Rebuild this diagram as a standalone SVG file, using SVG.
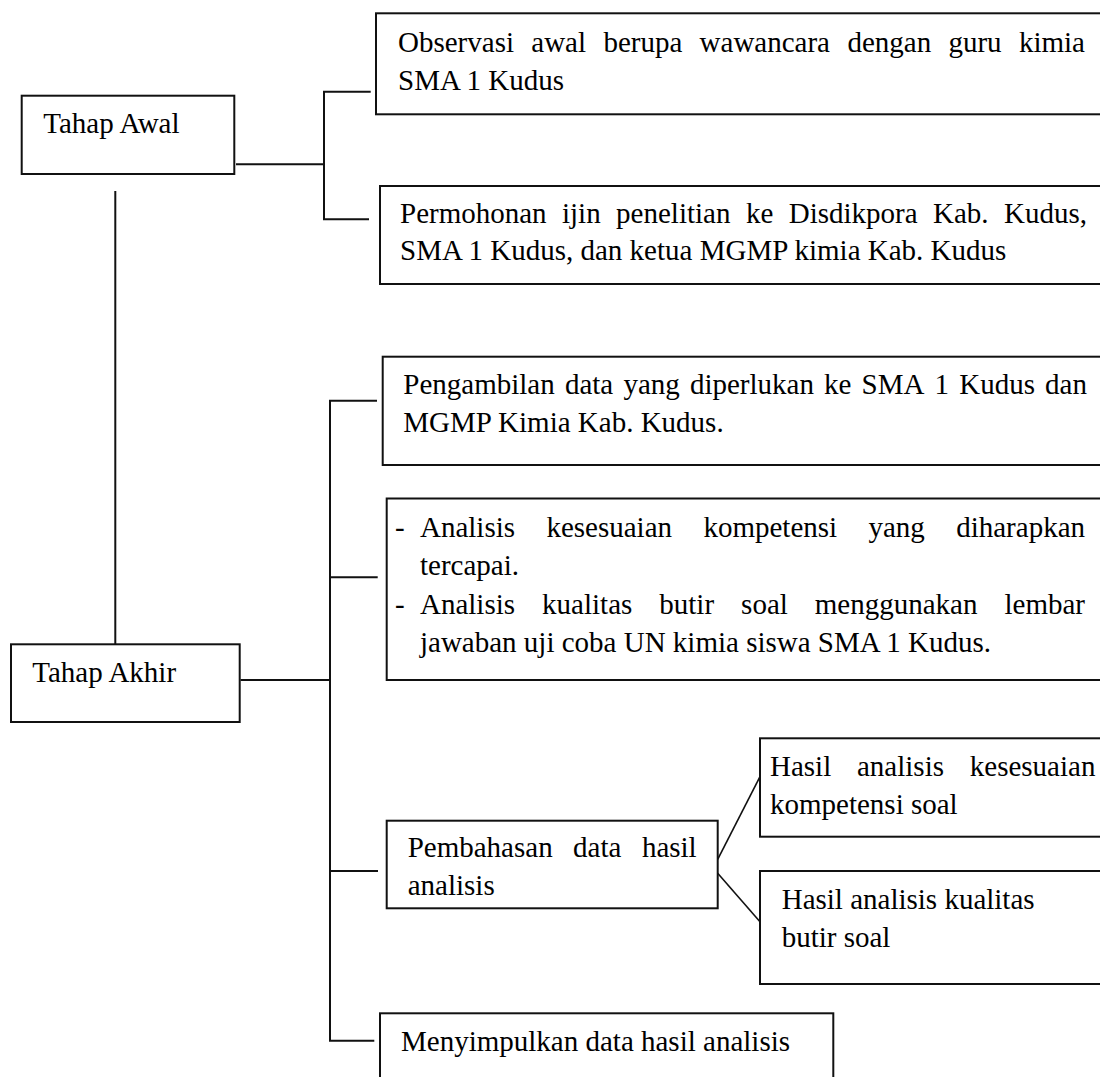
<svg xmlns="http://www.w3.org/2000/svg" width="1100" height="1077" viewBox="0 0 1100 1077">
  <style>
    .box { fill: #ffffff; stroke: #111111; stroke-width: 2; }
    .line { fill: none; stroke: #111111; stroke-width: 2; }
    .diag { fill: none; stroke: #111111; stroke-width: 1.6; }
    text { font-family: "Liberation Serif", "Times New Roman", serif; font-size: 29px; fill: #000000; }
  </style>
  <rect width="1100" height="1077" fill="#ffffff"/>

  <!-- connectors -->
  <g id="connectors">
    <!-- Tahap Awal branch -->
    <path class="line" d="M236 164.3 H324"/>
    <path class="line" d="M324 91.7 V219.3"/>
    <path class="line" d="M323 91.7 H370.7"/>
    <path class="line" d="M323 219.3 H369"/>
    <!-- link between the two stages -->
    <path class="line" d="M115.3 191 V644.3"/>
    <!-- Tahap Akhir branch -->
    <path class="line" d="M240.5 680 H329"/>
    <path class="line" d="M330 400.7 V1040.7"/>
    <path class="line" d="M329 400.7 H377"/>
    <path class="line" d="M331 577.3 H377.7"/>
    <path class="line" d="M331 871 H378"/>
    <path class="line" d="M329 1040.7 H374.3"/>
    <!-- discussion splits into two results -->
    <path class="diag" d="M717.7 859.3 L760 776.7"/>
    <path class="diag" d="M717.7 873.3 L760 921.7"/>
  </g>

  <g id="tahap-awal">
    <rect class="box" x="21.7" y="95.7" width="212.6" height="78.3"/>
    <text x="43.3" y="133.3">Tahap Awal</text>
  </g>

  <g id="observasi">
    <rect class="box" x="376" y="13.3" width="740" height="101"/>
    <text y="51.5"><tspan x="398">Observasi</tspan><tspan x="531.3">awal</tspan><tspan x="603.4">berupa</tspan><tspan x="699.6">wawancara</tspan><tspan x="847.4">dengan</tspan><tspan x="948.4">guru</tspan><tspan x="1018.9">kimia</tspan></text>
    <text x="398" y="89.5">SMA 1 Kudus</text>
  </g>

  <g id="permohonan">
    <rect class="box" x="380" y="186" width="740" height="98"/>
    <text y="222.7"><tspan x="400">Permohonan</tspan><tspan x="562">ijin</tspan><tspan x="616.1">penelitian</tspan><tspan x="745.9">ke</tspan><tspan x="788.7">Disdikpora</tspan><tspan x="933">Kab.</tspan><tspan x="1004">Kudus,</tspan></text>
    <text x="400" y="260">SMA 1 Kudus, dan ketua MGMP kimia Kab. Kudus</text>
  </g>

  <g id="tahap-akhir">
    <rect class="box" x="11" y="644.3" width="228.7" height="77.7"/>
    <text x="32.3" y="681.7">Tahap Akhir</text>
  </g>

  <g id="pengambilan">
    <rect class="box" x="382.7" y="356.7" width="740" height="108.3"/>
    <text y="394"><tspan x="403.3">Pengambilan</tspan><tspan x="564.9">data</tspan><tspan x="623.4">yang</tspan><tspan x="689.9">diperlukan</tspan><tspan x="824.1">ke</tspan><tspan x="861.6">SMA</tspan><tspan x="934.6">1</tspan><tspan x="959.2">Kudus</tspan><tspan x="1045.1">dan</tspan></text>
    <text x="403.3" y="432">MGMP Kimia Kab. Kudus.</text>
  </g>

  <g id="analisis">
    <rect class="box" x="386.7" y="498.5" width="740" height="181.5"/>
    <text y="536.5"><tspan x="395">-</tspan><tspan x="420">Analisis</tspan><tspan x="546.4">kesesuaian</tspan><tspan x="703.4">kompetensi</tspan><tspan x="868.4">yang</tspan><tspan x="956.2">diharapkan</tspan></text>
    <text x="420" y="575">tercapai.</text>
    <text y="613.5"><tspan x="395">-</tspan><tspan x="420">Analisis</tspan><tspan x="542.1">kualitas</tspan><tspan x="659.3">butir</tspan><tspan x="741.1">soal</tspan><tspan x="814.8">menggunakan</tspan><tspan x="1004.5">lembar</tspan></text>
    <text x="420" y="652">jawaban uji coba UN kimia siswa SMA 1 Kudus.</text>
  </g>

  <g id="pembahasan">
    <rect class="box" x="386.7" y="820.7" width="331" height="87.6"/>
    <text y="857.3"><tspan x="407.7">Pembahasan</tspan><tspan x="573.1">data</tspan><tspan x="641.9">hasil</tspan></text>
    <text x="407.7" y="895">analisis</text>
  </g>

  <g id="hasil-kesesuaian">
    <rect class="box" x="760" y="738.3" width="360" height="98.4"/>
    <text y="775.5"><tspan x="770">Hasil</tspan><tspan x="857">analisis</tspan><tspan x="969.8">kesesuaian</tspan></text>
    <text x="770" y="814">kompetensi soal</text>
  </g>

  <g id="hasil-kualitas">
    <rect class="box" x="760" y="871" width="360" height="113"/>
    <text x="781.7" y="908.5">Hasil analisis kualitas</text>
    <text x="781.7" y="946.7">butir soal</text>
  </g>

  <g id="menyimpulkan">
    <rect class="box" x="380" y="1013.3" width="453.3" height="100"/>
    <text x="401" y="1050.7">Menyimpulkan data hasil analisis</text>
  </g>
</svg>
